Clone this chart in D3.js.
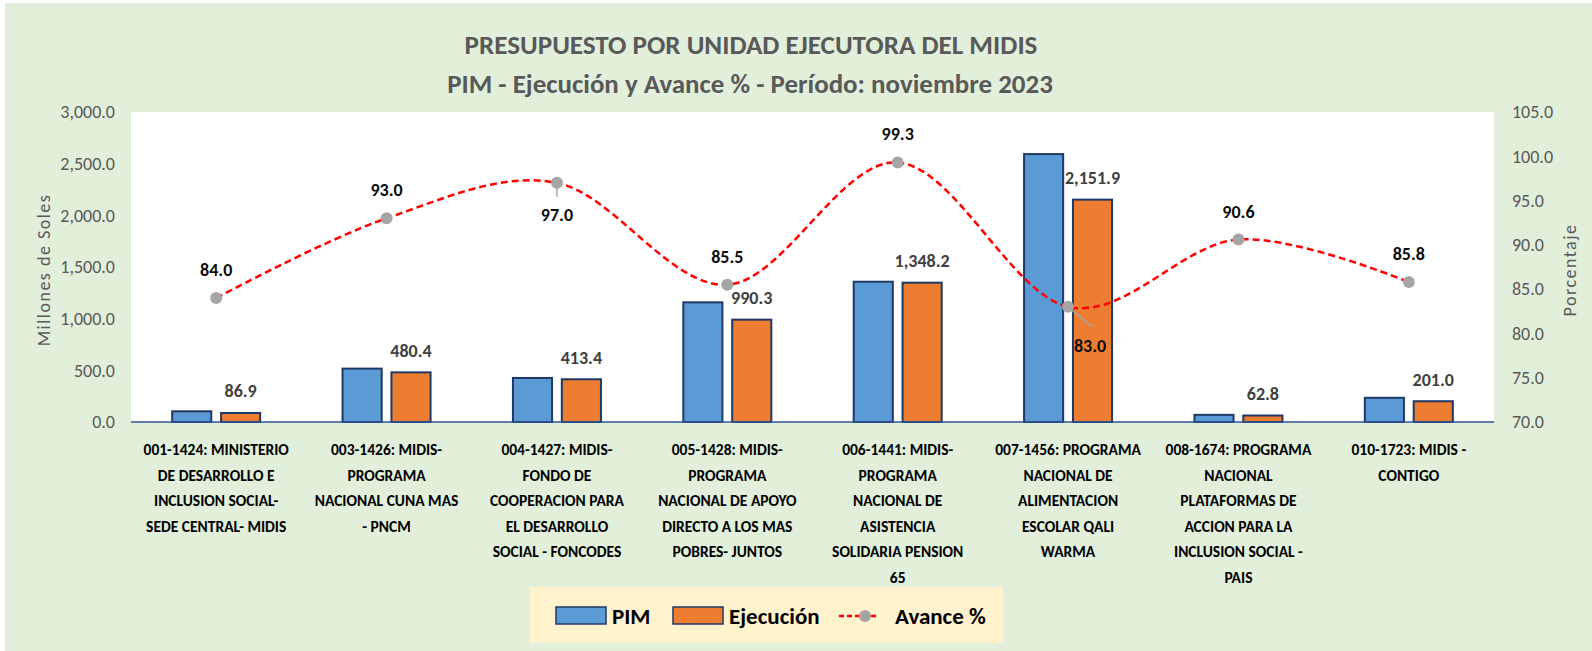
<!DOCTYPE html>
<html>
<head>
<meta charset="utf-8">
<script src="https://cdn.jsdelivr.net/npm/d3@7"></script>
<style>
  body { margin: 0; background: #fff; }
  svg text { font-family: Carlito, "Liberation Sans Narrow", Lato, sans-serif; }
</style>
</head>
<body>
<svg id="chart"></svg>
<script>
// data
var categories = [
  ['001-1424: MINISTERIO', 'DE DESARROLLO E', 'INCLUSION SOCIAL-', 'SEDE CENTRAL- MIDIS'],
  ['003-1426: MIDIS-', 'PROGRAMA', 'NACIONAL CUNA MAS', '- PNCM'],
  ['004-1427: MIDIS-', 'FONDO DE', 'COOPERACION PARA', 'EL DESARROLLO', 'SOCIAL - FONCODES'],
  ['005-1428: MIDIS-', 'PROGRAMA', 'NACIONAL DE APOYO', 'DIRECTO A LOS MAS', 'POBRES- JUNTOS'],
  ['006-1441: MIDIS-', 'PROGRAMA', 'NACIONAL DE', 'ASISTENCIA', 'SOLIDARIA PENSION', '65'],
  ['007-1456: PROGRAMA', 'NACIONAL DE', 'ALIMENTACION', 'ESCOLAR QALI', 'WARMA'],
  ['008-1674: PROGRAMA', 'NACIONAL', 'PLATAFORMAS DE', 'ACCION PARA LA', 'INCLUSION SOCIAL -', 'PAIS'],
  ['010-1723: MIDIS -', 'CONTIGO']
];
var pim = [103.5, 516.6, 426.2, 1158.2, 1357.7, 2592.7, 69.3, 234.3];
var ejecucion = [86.9, 480.4, 413.4, 990.3, 1348.2, 2151.9, 62.8, 201.0];
var avance = [84.0, 93.0, 97.0, 85.5, 99.3, 83.0, 90.6, 85.8];
var leftTicks = [0, 500, 1000, 1500, 2000, 2500, 3000];
var rightTicks = [70, 75, 80, 85, 90, 95, 100, 105];

var W = 1592, H = 651;
var plot = {left: 131, right: 1494, top: 112, bottom: 422};

var svg = d3.select('#chart')
  .attr('width', W)
  .attr('height', H);

// chart background + frame
svg.append('rect')
  .attr('x', 6).attr('y', 4)
  .attr('width', W + 10).attr('height', H + 10)
  .style('fill', '#E2EFDA')
  .style('stroke', '#D9D9D9');

svg.append('rect')
  .attr('x', plot.left).attr('y', plot.top)
  .attr('width', plot.right - plot.left)
  .attr('height', plot.bottom - plot.top)
  .style('fill', '#fff');

var idx = d3.range(categories.length);
var x = d3.scaleBand().domain(idx).range([plot.left, plot.right]);
var xInner = d3.scaleBand().domain(['pim', 'ejec']).range([0, 88]).paddingInner(0.2);
var y = d3.scaleLinear().domain([0, 3000]).range([plot.bottom, plot.top]);
var y2 = d3.scaleLinear().domain([70, 105]).range([plot.bottom, plot.top]);

function center( i ) { return x(i) + x.bandwidth() / 2; }

// titles, fitted to the width they take in the reference
function fitText( sel, target ) {
  var w = sel.node().getComputedTextLength();
  var fs = parseFloat(sel.style('font-size'));
  sel.style('font-size', (fs * target / w) + 'px');
}

var t1 = svg.append('text')
  .attr('x', 751).attr('y', 45).attr('dy', '0.35em')
  .style('text-anchor', 'middle')
  .style('font-weight', 'bold')
  .style('font-size', '24px')
  .style('fill', '#595959')
  .text('PRESUPUESTO POR UNIDAD EJECUTORA DEL MIDIS');
fitText(t1, 573);

var t2 = svg.append('text')
  .attr('x', 750).attr('y', 84).attr('dy', '0.35em')
  .style('text-anchor', 'middle')
  .style('font-weight', 'bold')
  .style('font-size', '24px')
  .style('fill', '#595959')
  .text('PIM - Ejecución y Avance % - Período: noviembre 2023');
fitText(t2, 606);

// axes
var fmt = d3.format(',.1f');
var leftAxis = svg.append('g')
  .attr('transform', 'translate(' + (plot.left - 16) + ',0)')
  .call(d3.axisLeft(y).tickValues(leftTicks).tickFormat(fmt).tickSize(0));
var rightAxis = svg.append('g')
  .attr('transform', 'translate(' + (plot.right + 18) + ',0)')
  .call(d3.axisRight(y2).tickValues(rightTicks).tickFormat(fmt).tickSize(0));
[leftAxis, rightAxis].forEach(function( ax ) {
  ax.select('.domain').remove();
  ax.selectAll('text')
    .attr('x', 0)
    .style('font-size', '18px')
    .style('fill', '#595959');
});

svg.append('text')
  .attr('transform', 'translate(44,270) rotate(-90)')
  .attr('dy', '0.35em')
  .style('text-anchor', 'middle')
  .style('font-size', '18px')
  .style('letter-spacing', '1.5px')
  .style('fill', '#595959')
  .text('Millones de Soles');

svg.append('text')
  .attr('transform', 'translate(1570,270) rotate(-90)')
  .attr('dy', '0.35em')
  .style('text-anchor', 'middle')
  .style('font-size', '18px')
  .style('letter-spacing', '1.5px')
  .style('fill', '#595959')
  .text('Porcentaje');

// bars
var groups = svg.selectAll('g.cat')
  .data(idx)
  .enter()
  .append('g')
    .attr('class', 'cat')
    .attr('transform', function( i ) { return 'translate(' + (center(i) - 44) + ',0)'; });

groups.append('rect')
  .attr('x', xInner('pim'))
  .attr('y', function( i ) { return y(pim[i]); })
  .attr('width', xInner.bandwidth())
  .attr('height', function( i ) { return y(0) - y(pim[i]); })
  .style('fill', '#5B9BD5')
  .style('stroke', '#1F3864')
  .style('stroke-width', 2);

groups.append('rect')
  .attr('x', xInner('ejec'))
  .attr('y', function( i ) { return y(ejecucion[i]); })
  .attr('width', xInner.bandwidth())
  .attr('height', function( i ) { return y(0) - y(ejecucion[i]); })
  .style('fill', '#ED7D31')
  .style('stroke', '#1F3864')
  .style('stroke-width', 2);

groups.append('text')
  .attr('x', xInner('ejec') + xInner.bandwidth() / 2)
  .attr('y', function( i ) { return y(ejecucion[i]) - 22; })
  .attr('dy', '0.35em')
  .style('text-anchor', 'middle')
  .style('font-weight', 'bold')
  .style('font-size', '18px')
  .style('fill', '#404040')
  .text(function( i ) { return fmt(ejecucion[i]); });

// baseline
svg.append('line')
  .attr('x1', plot.left).attr('x2', plot.right)
  .attr('y1', y(0)).attr('y2', y(0))
  .style('stroke', '#2F5597')
  .style('stroke-width', 1.5);

// avance line
var line = d3.line()
  .x(function( i ) { return center(i); })
  .y(function( i ) { return y2(avance[i]); })
  .curve(d3.curveCardinal.tension(0));

svg.append('path')
  .attr('d', line(idx))
  .style('fill', 'none')
  .style('stroke', '#FF0000')
  .style('stroke-width', 2.5)
  .style('stroke-dasharray', '7,4');

// leader lines for the labels moved below the point
var leaders = [{i: 2, dx: 0, dy: 14}, {i: 5, dx: 24, dy: 20}];
svg.selectAll('line.leader')
  .data(leaders)
  .enter()
  .append('line')
    .attr('x1', function( d ) { return center(d.i); })
    .attr('y1', function( d ) { return y2(avance[d.i]); })
    .attr('x2', function( d ) { return center(d.i) + d.dx; })
    .attr('y2', function( d ) { return y2(avance[d.i]) + d.dy; })
    .style('stroke', '#A5A5A5')
    .style('stroke-width', 1.5);

svg.selectAll('circle.pt')
  .data(idx)
  .enter()
  .append('circle')
    .attr('cx', function( i ) { return center(i); })
    .attr('cy', function( i ) { return y2(avance[i]); })
    .attr('r', 6)
    .style('fill', '#A5A5A5');

var labelOffset = [[0, -28], [0, -29], [0, 32], [0, -28], [0, -29], [22, 39], [0, -28], [0, -28]];
svg.selectAll('text.av')
  .data(idx)
  .enter()
  .append('text')
    .attr('x', function( i ) { return center(i) + labelOffset[i][0]; })
    .attr('y', function( i ) { return y2(avance[i]) + labelOffset[i][1]; })
    .attr('dy', '0.35em')
    .style('text-anchor', 'middle')
    .style('font-weight', 'bold')
    .style('font-size', '18px')
    .style('fill', '#0D0D0D')
    .text(function( i ) { return avance[i].toFixed(1); });

// category labels
var catText = svg.selectAll('text.cat')
  .data(idx)
  .enter()
  .append('text')
    .attr('y', 450)
    .style('text-anchor', 'middle')
    .style('font-weight', 'bold')
    .style('font-size', '15.5px')
    .style('fill', '#000');

catText.selectAll('tspan')
  .data(function( i ) {
    return categories[i].map(function( s, k ) { return {i: i, k: k, s: s}; });
  })
  .enter()
  .append('tspan')
    .attr('x', function( d ) { return center(d.i); })
    .attr('y', function( d ) { return 450 + d.k * 25.5; })
    .attr('dy', '0.35em')
    .text(function( d ) { return d.s; });

// legend
var legend = svg.append('g');
legend.append('rect')
  .attr('x', 530).attr('y', 587)
  .attr('width', 473).attr('height', 56)
  .style('fill', '#FFF2CC');

var legendItems = [
  {label: 'PIM', fill: '#5B9BD5', x: 556},
  {label: 'Ejecución', fill: '#ED7D31', x: 673}
];
legendItems.forEach(function( d ) {
  legend.append('rect')
    .attr('x', d.x).attr('y', 607)
    .attr('width', 50).attr('height', 17)
    .style('fill', d.fill)
    .style('stroke', '#1F3864')
    .style('stroke-width', 1.5);
  legend.append('text')
    .attr('x', d.x + 56).attr('y', 616).attr('dy', '0.35em')
    .style('font-weight', 'bold')
    .style('font-size', '23px')
    .style('fill', '#000')
    .text(d.label);
});

legend.append('line')
  .attr('x1', 839).attr('x2', 878)
  .attr('y1', 616).attr('y2', 616)
  .style('stroke', '#FF0000')
  .style('stroke-width', 2.5)
  .style('stroke-dasharray', '5,3');
legend.append('circle')
  .attr('cx', 865).attr('cy', 616).attr('r', 6)
  .style('fill', '#A5A5A5');
legend.append('text')
  .attr('x', 895).attr('y', 616).attr('dy', '0.35em')
  .style('font-weight', 'bold')
  .style('font-size', '23px')
  .style('fill', '#000')
  .text('Avance %');
</script>
</body>
</html>
